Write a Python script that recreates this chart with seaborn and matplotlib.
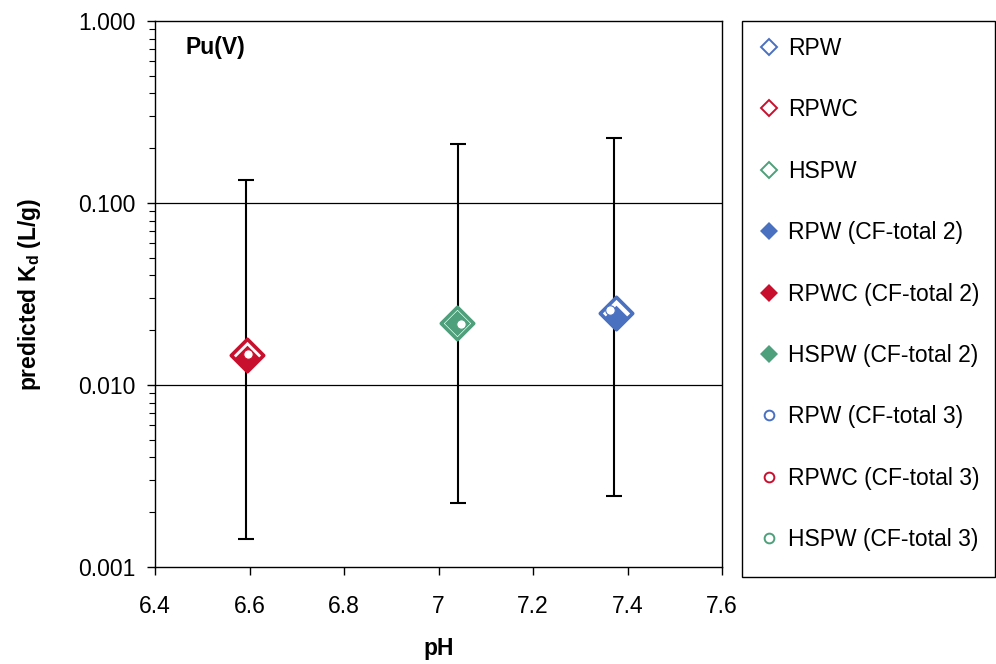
import matplotlib
matplotlib.use("Agg")
import matplotlib.pyplot as plt
import matplotlib.ticker as mticker
from matplotlib.lines import Line2D
from matplotlib.patches import Rectangle
import seaborn as sns
import pandas as pd

# ---- data ----
series_names = ["RPW", "RPWC", "HSPW"]
series_colors = ["#4A70C0", "#C8102E", "#4E9F7B"]

# open diamonds (base predictions)
ph_base = [7.376, 6.594, 7.040]
kd_base = [0.0249, 0.0146, 0.0220]
# error-bar limits for base predictions
kd_low = [0.00245, 0.00143, 0.00225]
kd_high = [0.228, 0.134, 0.212]
ph_err = [7.371, 6.593, 7.041]

# filled diamonds (CF-total 2)
ph_cf2 = [7.376, 6.594, 7.040]
kd_cf2 = [0.0234, 0.0141, 0.0219]

# small circles (CF-total 3)
ph_cf3 = [7.364, 6.596, 7.048]
kd_cf3 = [0.0258, 0.0148, 0.0217]

x_ticks = [6.4, 6.6, 6.8, 7.0, 7.2, 7.4, 7.6]
y_ticks = [0.001, 0.01, 0.1, 1.0]

df = pd.DataFrame({
    "name": series_names, "color": series_colors,
    "ph_base": ph_base, "kd_base": kd_base,
    "kd_low": kd_low, "kd_high": kd_high, "ph_err": ph_err,
    "ph_cf2": ph_cf2, "kd_cf2": kd_cf2,
    "ph_cf3": ph_cf3, "kd_cf3": kd_cf3,
})

sns.set_style("ticks")
plt.rcParams["font.family"] = ["Liberation Sans", "DejaVu Sans"]
plt.rcParams["mathtext.fontset"] = "custom"
plt.rcParams["mathtext.rm"] = "Liberation Sans"
plt.rcParams["mathtext.bf"] = "Liberation Sans:bold"
plt.rcParams["text.color"] = "black"
plt.rcParams["axes.labelcolor"] = "black"

FS = 16.5

fig = plt.figure(figsize=(9.96, 6.64), dpi=100)
ax = fig.add_axes([155 / 996, 1 - 567 / 664, (722 - 155) / 996, (567 - 21) / 664])

ax.set_yscale("log")
ax.set_xlim(6.4, 7.6)
ax.set_ylim(0.001, 1.0)

# gridlines at inner decades
for g in [0.01, 0.1]:
    ax.axhline(g, color="black", lw=0.9, zorder=1)

# error bars
ax.errorbar(df["ph_err"], df["kd_base"],
            yerr=[df["kd_base"] - df["kd_low"], df["kd_high"] - df["kd_base"]],
            fmt="none", ecolor="black", elinewidth=1.5, capsize=5.5, capthick=1.5,
            zorder=2)

for _, r in df.iterrows():
    sns.scatterplot(x=[r["ph_base"]], y=[r["kd_base"]], ax=ax, marker="D", s=16.5 ** 2,
                    color="white", edgecolor=r["color"], linewidth=2.6, zorder=3)
    sns.scatterplot(x=[r["ph_cf2"]], y=[r["kd_cf2"]], ax=ax, marker="D", s=13.0 ** 2,
                    color=r["color"], edgecolor=r["color"], linewidth=0, zorder=4)
    sns.scatterplot(x=[r["ph_cf3"]], y=[r["kd_cf3"]], ax=ax, marker="o", s=6.8 ** 2,
                    color="white", edgecolor=r["color"], linewidth=0.8, zorder=5)

ax.set_xticks(x_ticks)
ax.xaxis.set_major_formatter(mticker.FuncFormatter(lambda v, p: "%g" % round(v, 2)))
ax.set_yticks(y_ticks)
ax.yaxis.set_major_formatter(mticker.FuncFormatter(lambda v, p: "%.3f" % v))
ax.yaxis.set_minor_locator(mticker.LogLocator(base=10, subs=range(2, 10)))
ax.yaxis.set_minor_formatter(mticker.NullFormatter())

ax.tick_params(axis="both", which="major", direction="out", length=6, width=1,
               labelsize=FS, color="black", labelcolor="black")
ax.tick_params(axis="y", which="minor", direction="out", length=4, width=0.8, color="black")
ax.tick_params(axis="x", pad=14)
ax.tick_params(axis="y", pad=8)

for sp in ax.spines.values():
    sp.set_color("black")
    sp.set_linewidth(1.0)

ax.set_xlabel("pH", fontsize=FS, fontweight="bold", labelpad=14)
ax.set_ylabel(r"predicted K$_\mathbf{d}$ (L/g)", fontsize=FS, fontweight="bold", labelpad=25)

ax.text(0.053, 0.952, "Pu(V)", transform=ax.transAxes, fontsize=FS,
        fontweight="bold", va="center", ha="left")

# legend
handles = []
labels = []
for n, c in zip(series_names, series_colors):
    handles.append(Line2D([], [], ls="none", marker="D", ms=8, mfc="white", mec=c, mew=1.4))
    labels.append(n)
for n, c in zip(series_names, series_colors):
    handles.append(Line2D([], [], ls="none", marker="D", ms=9.5, mfc=c, mec=c, mew=0))
    labels.append(n + " (CF-total 2)")
for n, c in zip(series_names, series_colors):
    handles.append(Line2D([], [], ls="none", marker="o", ms=7, mfc="white", mec=c, mew=1.4))
    labels.append(n + " (CF-total 3)")

fig.patches.append(Rectangle((742 / 996, 1 - 577 / 664), (995 - 742) / 996, (577 - 21) / 664,
                             transform=fig.transFigure, fill=False, edgecolor="black",
                             linewidth=1.0))
fig.legend(handles, labels, loc="upper left", bbox_to_anchor=(758 / 996, 1 - 37 / 664),
           frameon=False, fontsize=FS, labelspacing=1.675, handlelength=1.0,
           handletextpad=0.3, borderaxespad=0, borderpad=0)

fig.savefig("out.png", dpi=100)
